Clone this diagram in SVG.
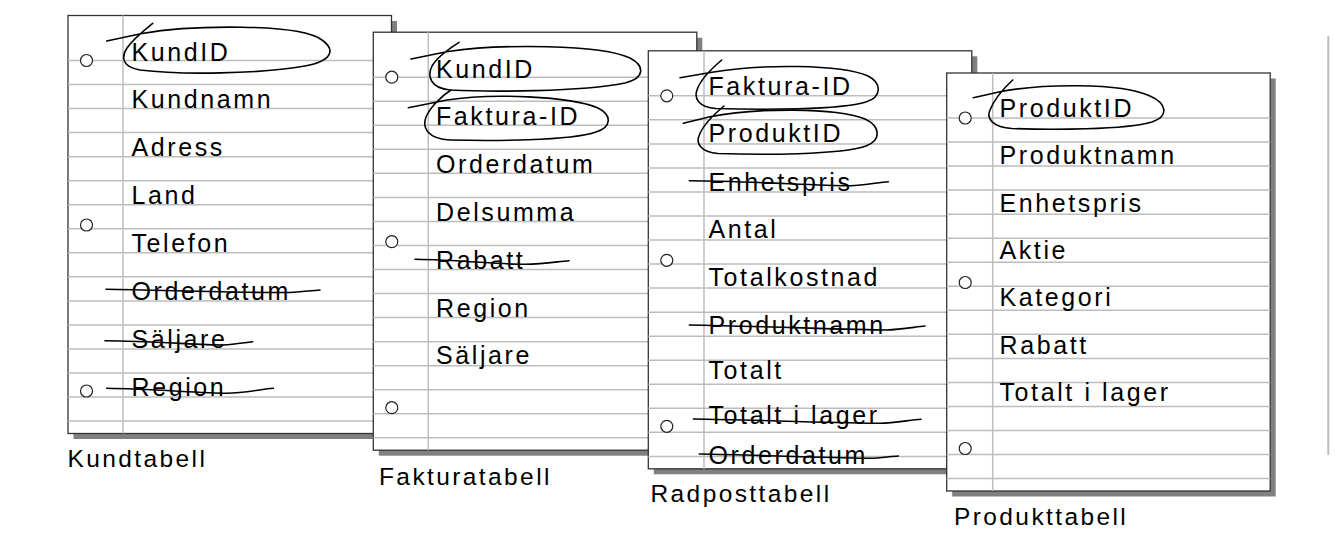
<svg xmlns="http://www.w3.org/2000/svg" xmlns:xlink="http://www.w3.org/1999/xlink" width="1342" height="540" viewBox="0 0 1342 540">
<style>
.shadow{fill:#808080}
.paper{fill:#fff;stroke:#333;stroke-width:1.3}
.rule{stroke:#bdbdbd;stroke-width:1.5}
.hole{fill:#fff;stroke:#222;stroke-width:1.2}
.t{font-family:"Liberation Sans",Arial,sans-serif;font-size:25px;letter-spacing:2.6px;fill:#000}
.cap{font-family:"Liberation Sans",Arial,sans-serif;font-size:24.5px;letter-spacing:2.4px;fill:#000}
.pen{fill:none;stroke:#000;stroke-width:1.6;stroke-linecap:round;stroke-linejoin:round}
</style>
<defs>
<g id="rules">
<line class="rule" x1="0" x2="323.5" y1="45" y2="45"/>
<line class="rule" x1="0" x2="323.5" y1="69.04" y2="69.04"/>
<line class="rule" x1="0" x2="323.5" y1="93.08" y2="93.08"/>
<line class="rule" x1="0" x2="323.5" y1="117.12" y2="117.12"/>
<line class="rule" x1="0" x2="323.5" y1="141.16" y2="141.16"/>
<line class="rule" x1="0" x2="323.5" y1="165.2" y2="165.2"/>
<line class="rule" x1="0" x2="323.5" y1="189.24" y2="189.24"/>
<line class="rule" x1="0" x2="323.5" y1="213.28" y2="213.28"/>
<line class="rule" x1="0" x2="323.5" y1="237.32" y2="237.32"/>
<line class="rule" x1="0" x2="323.5" y1="261.36" y2="261.36"/>
<line class="rule" x1="0" x2="323.5" y1="285.4" y2="285.4"/>
<line class="rule" x1="0" x2="323.5" y1="309.44" y2="309.44"/>
<line class="rule" x1="0" x2="323.5" y1="333.48" y2="333.48"/>
<line class="rule" x1="0" x2="323.5" y1="357.52" y2="357.52"/>
<line class="rule" x1="0" x2="323.5" y1="381.56" y2="381.56"/>
<line class="rule" x1="0" x2="323.5" y1="405.6" y2="405.6"/>
</g>
<g id="paper">
<rect class="shadow" x="5.5" y="5.5" width="323.5" height="418"/>
<rect class="paper" x="0" y="0" width="323.5" height="418"/>
<use xlink:href="#rules"/>
</g>
<g id="holes">
<circle class="hole" cx="18.5" cy="45" r="6"/>
<circle class="hole" cx="18.5" cy="209.5" r="6"/>
<circle class="hole" cx="18.5" cy="375.5" r="6"/>
</g>
</defs>

<g id="kundtabell">
<g transform="translate(68,15.5)">
<use xlink:href="#paper"/>
<line class="rule" x1="55" y1="0" x2="55" y2="418"/>
<use xlink:href="#holes"/>
</g>
<text class="t" x="131.5" y="61">KundID</text>
<text class="t" x="131.5" y="107.6">Kundnamn</text>
<text class="t" x="131.5" y="155.7">Adress</text>
<text class="t" x="131.5" y="203.7">Land</text>
<text class="t" x="131.5" y="251.8">Telefon</text>
<text class="t" x="131.5" y="299.9">Orderdatum</text>
<text class="t" x="131.5" y="348">Säljare</text>
<text class="t" x="131.5" y="396">Region</text>
<path class="pen" d="M106.7,41 L142,33.5 C190,25 300,23 322,40 C336,50 332,61 305,66 C260,74 180,75 140,70 C122,67 121,57 127,48 C133,39 142,32 152.7,23.3"/>
<path class="pen" d="M106,289.3 C160,290 240,293 290,292.5 C300,292 312,290.5 320,290"/>
<path class="pen" d="M105,340.7 C150,341 200,345 223,345 C235,344.5 245,342.5 252.7,341.7"/>
<path class="pen" d="M106.7,388.3 C150,389 200,393 226.7,393.3 C245,393 262,389 273.3,388.3"/>
<text class="cap" x="67.5" y="467">Kundtabell</text>
</g>

<g id="fakturatabell">
<g transform="translate(373.3,32.2)">
<use xlink:href="#paper"/>
<line class="rule" x1="55" y1="0" x2="55" y2="418"/>
<use xlink:href="#holes"/>
</g>
<text class="t" x="436" y="77.5">KundID</text>
<text class="t" x="436" y="125.3">Faktura-ID</text>
<text class="t" x="436" y="172.5">Orderdatum</text>
<text class="t" x="436" y="220.5">Delsumma</text>
<text class="t" x="436" y="268.7">Rabatt</text>
<text class="t" x="436" y="316.7">Region</text>
<text class="t" x="436" y="364">Säljare</text>
<path class="pen" d="M411,59 L448,51.5 C500,44 600,44 630,58 C645,66 645,78 625,83 C580,92 490,92 450,90 C430,88 427,76 432,66 C437,57 447,50 459,42.3"/>
<path class="pen" d="M408.3,107.7 L447,100 C490,93 570,96 598,108 C612,115 612,127 596,132 C570,141 490,141 450,140 C428,139 422,128 426,117 C430,108 440,97 451,90"/>
<path class="pen" d="M415,259.3 C460,260 500,264.5 525,264.3 C545,264 558,261.5 569,260.7"/>
<text class="cap" x="379" y="485">Fakturatabell</text>
</g>

<g id="radposttabell">
<g transform="translate(648.3,50.8)">
<use xlink:href="#paper"/>
<line class="rule" x1="55.7" y1="0" x2="55.7" y2="418"/>
<use xlink:href="#holes"/>
</g>
<text class="t" x="708.5" y="95">Faktura-ID</text>
<text class="t" x="708.5" y="141.7">ProduktID</text>
<text class="t" x="708.5" y="190.5">Enhetspris</text>
<text class="t" x="708.5" y="238.3">Antal</text>
<text class="t" x="708.5" y="286">Totalkostnad</text>
<text class="t" x="708.5" y="333.5">Produktnamn</text>
<text class="t" x="708.5" y="378.8">Totalt</text>
<text class="t" x="708.5" y="423.5">Totalt i lager</text>
<text class="t" x="708.5" y="464">Orderdatum</text>
<path class="pen" d="M680,77.7 L712,72.3 C760,64 840,64 868,76 C882,83 882,97 866,102 C840,110 760,110 716,108.5 C698,107 694,98 697,90 C700,80 710,70 721.7,60"/>
<path class="pen" d="M683.3,123.3 L710,116.7 C755,108 835,107 865,119 C880,126 882,140 866,146 C840,155 760,155 718,153.5 C700,152 696,143 699,136 C702,127 712,116 724,106"/>
<path class="pen" d="M689.3,180.7 C750,181 820,186 850,185.7 C865,185 878,182.5 888.3,181.7"/>
<path class="pen" d="M689.3,325 C760,326 850,330 886.7,330 C900,329.5 915,327 925,326"/>
<path class="pen" d="M693.3,419 C760,420 850,423.5 880,423.3 C895,423 910,420 921,419.3"/>
<path class="pen" d="M699.3,454 C760,455 840,458.3 870,458.3 C880,458 890,456.5 898.3,456"/>
<text class="cap" x="650.5" y="501.7">Radposttabell</text>
</g>

<g id="produkttabell">
<g transform="translate(946.7,73)">
<use xlink:href="#paper"/>
<line class="rule" x1="46" y1="0" x2="46" y2="418"/>
<use xlink:href="#holes"/>
</g>
<text class="t" x="999.5" y="116.7">ProduktID</text>
<text class="t" x="999.5" y="163.8">Produktnamn</text>
<text class="t" x="999.5" y="211.5">Enhetspris</text>
<text class="t" x="999.5" y="258.5">Aktie</text>
<text class="t" x="999.5" y="306">Kategori</text>
<text class="t" x="999.5" y="353.5">Rabatt</text>
<text class="t" x="999.5" y="401">Totalt i lager</text>
<path class="pen" d="M973.3,97.7 L1000,91.7 C1040,84 1120,82 1150,96 C1166,103 1170,116 1152,122 C1125,130 1050,130 1012,128.5 C993,127 986,119 990,110 C994,100 1003,89 1012.7,80"/>
<text class="cap" x="954" y="525">Produkttabell</text>
</g>

<g id="edge">
<line x1="1328.3" y1="36" x2="1328.3" y2="455" stroke="#bdbdbd" stroke-width="2"/>
</g>
</svg>
